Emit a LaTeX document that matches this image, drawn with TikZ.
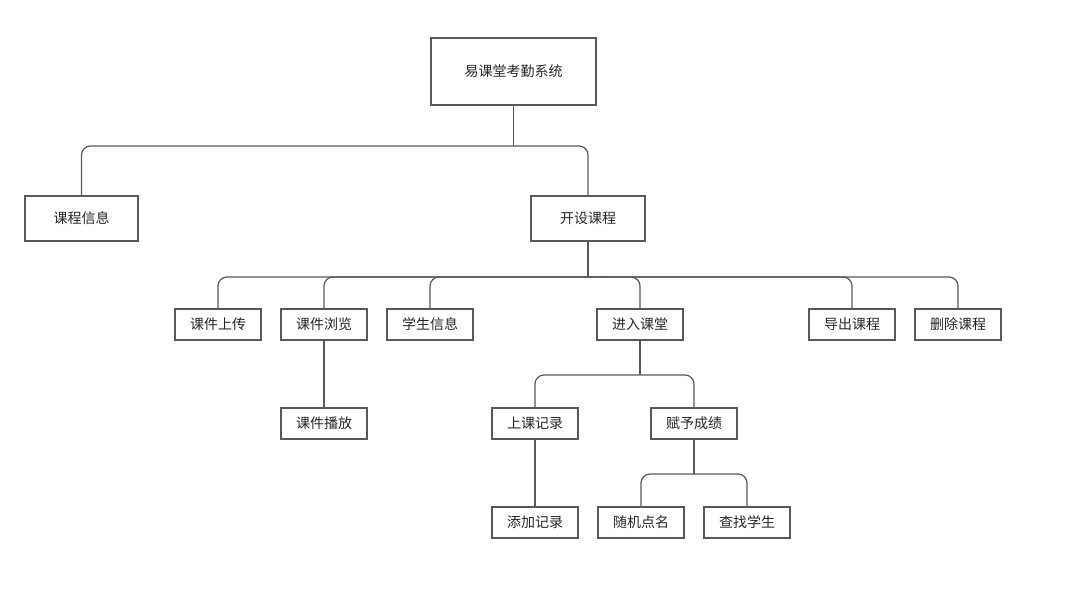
\documentclass[tikz,border=0pt]{standalone}
\usepackage{fontspec}
\newfontfamily\cjk{Noto Sans CJK SC}
\begin{document}
\begin{tikzpicture}[x=1pt,y=-1pt,
 bx/.style={draw=black!65,line width=1.2pt,fill=white,font=\cjk\fontsize{14}{16}\selectfont,text=black!85,anchor=center,inner sep=0pt},
 cn/.style={draw=black!65,line width=1.2pt,rounded corners=9pt}]
\useasboundingbox (0,0) rectangle (1080,611);
\node[bx,minimum width=165,minimum height=67] (root) at (513.5,71.5) {易课堂考勤系统};
\node[bx,minimum width=113,minimum height=45] (kcxx) at (81.5,218.5) {课程信息};
\node[bx,minimum width=114,minimum height=45] (kskc) at (588,218.5) {开设课程};
\foreach \n/\x/\t in {sc/218/课件上传,ll/324/课件浏览,xs/430/学生信息,jr/640/进入课堂,dc/852/导出课程,sk/958/删除课程}
  \node[bx,minimum width=86,minimum height=31] (\n) at (\x,324.5) {\t};
\node[bx,minimum width=86,minimum height=31] (bf) at (324,423.5) {课件播放};
\node[bx,minimum width=86,minimum height=31] (jl) at (535,423.5) {上课记录};
\node[bx,minimum width=86,minimum height=31] (cj) at (694,423.5) {赋予成绩};
\node[bx,minimum width=86,minimum height=31] (tj) at (535,522.5) {添加记录};
\node[bx,minimum width=86,minimum height=31] (dm) at (641,522.5) {随机点名};
\node[bx,minimum width=86,minimum height=31] (cz) at (747,522.5) {查找学生};
% level 1
\draw[cn] (root.south) -- (root.south |- 0,146);
\draw[cn] (kcxx.north) |- (300,146) -| (kskc.north);
% level 2
\draw[cn] (kskc.south) -- (kskc.south |- 0,277);
\draw[cn] (sc.north) |- (600,277) -| (sk.north);
\foreach \n in {ll,xs,jr,dc} \draw[cn] (\n.north) |- (600,277);
\draw[cn] (ll.south) -- (bf.north);
% level 3
\draw[cn] (jr.south) -- (jr.south |- 0,375);
\draw[cn] (jl.north) |- (600,375) -| (cj.north);
\draw[cn] (jl.south) -- (tj.north);
\draw[cn] (cj.south) -- (cj.south |- 0,474);
\draw[cn] (dm.north) |- (700,474) -| (cz.north);
\end{tikzpicture}
\end{document}
